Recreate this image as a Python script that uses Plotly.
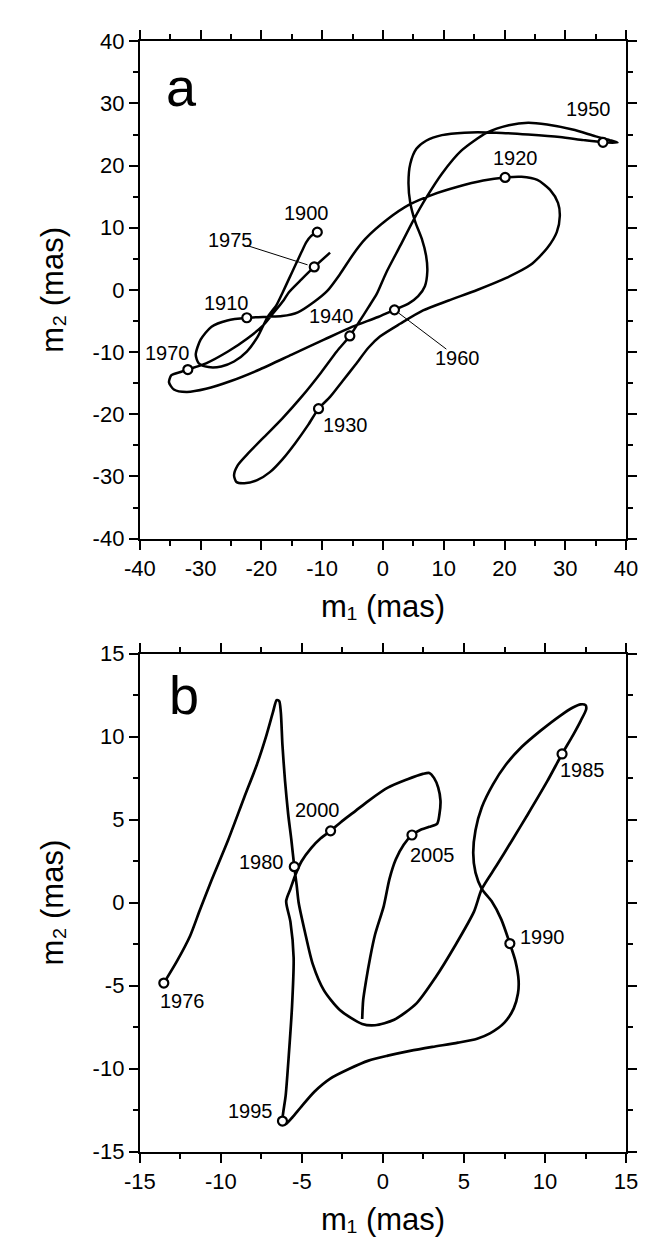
import plotly.graph_objects as go

# ---------------- data: panel a (1900-1976) ----------------
a_m1 = [-10.8, -11.8, -12.6, -13.4, -14.4, -15.5, -16.5, -17.5, -19.0, -20.6, -22.4, -24.5, -26.6,
        -28.7, -30.3, -30.8, -30.0, -28.2, -25.6, -22.4, -19.0, -16.6, -14.0, -11.3, -9.2, -7.1,
        -5.0, -2.9, 0.8, 4.4, 8.1, 12.3, 16.5, 20.1, 22.8, 25.4, 27.5, 28.8, 29.1, 28.6, 27.0,
        24.3, 20.2, 15.5, 10.8, 6.6, 2.9, -0.5, -2.4, -4.5, -6.6, -8.7, -10.6, -12.3, -14.4,
        -16.5, -18.6, -20.7, -22.8, -24.1, -24.5, -23.9, -22.3, -19.7, -16.5, -13.4, -10.2, -7.6,
        -5.45, -3.9, -2.4, -1.0, 0.5, 2.9, 5.0, 7.1, 9.7, 12.9, 17.1, 20.7, 23.9, 27.0, 31.2,
        35.0, 37.3, 38.6, 36.2, 33.0, 29.1, 23.9, 18.6, 13.4, 9.7, 7.1, 5.5, 4.5, 4.2, 4.5, 5.3,
        6.4, 7.1, 7.3, 6.9, 5.8, 4.2, 1.9, -0.8, -5.0, -9.7, -15.0, -20.2, -24.9, -29.1, -32.3,
        -34.4, -35.2, -34.8, -33.3, -32.1, -29.1, -25.5, -22.3, -19.7, -18.1, -16.3, -15.5,
        -13.4, -11.3, -8.7]
a_m2 = [9.3, 8.7, 7.7, 6.1, 4.0, 1.7, -0.4, -2.4, -4.4, -7.5, -9.9, -11.5, -12.3,
        -12.4, -11.8, -10.4, -8.0, -5.9, -4.9, -4.47, -4.3, -4.2, -3.6, -1.9, -0.2, 2.5,
        5.6, 8.2, 11.4, 13.75, 15.3, 16.6, 17.6, 18.1, 18.2, 17.7, 16.1, 14.0, 11.9, 9.3, 6.7,
        4.05, 1.9, 0.0, -1.7, -3.3, -5.4, -7.5, -9.3, -12.0, -14.6, -17.2, -19.1, -21.7, -24.6,
        -27.2, -29.3, -30.6, -31.1, -30.9, -29.8, -28.2, -26.4, -23.8, -20.6, -17.2, -13.3, -9.9,
        -7.4, -5.1, -2.8, -0.6, 2.7, 7.2, 11.2, 14.8, 18.7, 22.4, 25.3, 26.5, 26.9, 26.6, 25.8,
        24.7, 24.1, 23.7, 23.75, 24.1, 24.6, 25.0, 25.3, 25.3, 24.9, 24.0, 22.7, 20.3, 17.2, 14.0, 11.0,
        8.2, 5.5, 3.0, 0.6, -1.0, -2.2, -3.2, -4.35, -5.9, -8.0, -10.4, -12.75, -14.6, -15.9, -16.4,
        -16.0, -14.85, -13.7, -13.2, -12.8, -11.8, -9.9, -7.8, -5.7, -3.8, -1.6, -0.4,
        1.7, 3.7, 6.0]
a_years = [1900, 1910, 1920, 1930, 1940, 1950, 1960, 1970, 1975]
a_year_m1 = [-10.8, -22.4, 20.1, -10.6, -5.45, 36.2, 1.9, -32.1, -11.3]
a_year_m2 = [9.3, -4.47, 18.1, -19.1, -7.4, 23.75, -3.2, -12.8, 3.7]
a_ticks = [-40, -30, -20, -10, 0, 10, 20, 30, 40]

# ---------------- data: panel b (1976-2008) ----------------
b_m1 = [-13.52, -12.7, -11.9, -11.3, -10.6, -9.55, -8.56, -7.78, -7.19, -6.79, -6.56, -6.4, -6.3,
        -6.2, -6.04, -5.85, -5.65, -5.47, -5.32, -5.2, -4.82, -4.33, -3.64, -2.66, -1.28, -0.49,
        0.69, 2.07, 3.25, 4.43, 5.61, 6.1, 6.99, 7.98, 8.96, 10.14, 11.05, 11.72, 12.21, 12.54,
        12.5, 12.2, 11.72, 10.93, 9.75, 8.57, 7.58, 6.79, 6.1, 5.71, 5.57, 5.71, 6.1, 6.7, 7.3,
        7.83, 8.17, 8.37, 8.33, 8.07, 7.48, 6.6, 5.81, 4.63, 3.05, 1.67, 0.3, -0.89, -2.07, -3.25,
        -4.23, -5.02, -5.61, -5.95, -6.1, -6.2, -6.0, -5.81, -5.61, -5.51, -5.71, -5.97, -5.71,
        -5.41, -5.02, -4.43, -3.84, -3.23, -2.46, -1.67, -0.89, 0.3, 1.48, 2.46, 2.86, 3.15, 3.41,
        3.55, 3.49, 3.35, 2.86, 2.27, 1.79, 1.28, 0.79, 0.4, 0.05, -0.49, -0.79, -1.04, -1.22, -1.28]
b_m2 = [-4.84, -3.5, -2.0, -0.45, 1.3, 3.78, 6.34, 8.31, 10.08, 11.46, 12.2, 12.15, 11.46,
        9.49, 7.32, 5.36, 3.78, 2.17, 1.03, 0.0, -1.73, -3.7, -5.28, -6.46, -7.3, -7.38,
        -7.05, -6.06, -4.49, -2.62, -0.55, 0.83, 2.21, 3.78, 5.36, 7.32, 8.96, 10.08, 10.97, 11.66,
        11.9, 11.95, 11.76, 11.26, 10.38, 9.39, 8.31, 7.13, 5.75, 4.37, 2.99, 1.81, 0.83, 0.1, -1.0,
        -2.46, -3.5, -4.69, -5.47, -6.36, -7.24, -7.87, -8.19, -8.43, -8.68, -8.92, -9.21, -9.51, -10.0, -10.59,
        -11.38, -12.26, -12.95, -13.3, -13.35, -13.15, -11.6, -9.21, -6.26, -3.31, -1.14, 0.1, 0.83,
        1.66, 2.5, 3.29, 3.88, 4.33, 4.96, 5.55, 6.14, 6.93, 7.42, 7.76, 7.82, 7.52, 6.93,
        6.14, 5.36, 4.77, 4.57, 4.37, 4.08, 3.49, 2.6, 1.42, -0.2, -1.93, -3.31, -4.69, -5.87, -7.0]
b_years = [1976, 1980, 1985, 1990, 1995, 2000, 2005]
b_year_m1 = [-13.52, -5.47, 11.05, 7.83, -6.2, -3.23, 1.79]
b_year_m2 = [-4.84, 2.17, 8.96, -2.46, -13.15, 4.33, 4.08]
b_ticks = [-15, -10, -5, 0, 5, 10, 15]

# ---------------- styling / layout ----------------
FONT = "Liberation Sans, Arial, Helvetica, sans-serif"
W, H = 654, 1243
X0, X1 = 121, 629
A_T, A_B = 21.7, 529.3
B_T, B_B = 646.7, 1155.0

# label offsets (in data units) relative to the marker
a_lab_off = {1900: (-1.8, 3.0), 1910: (-3.3, 2.4), 1920: (1.7, 3.2), 1930: (4.5, -2.6),
             1940: (-3.0, 3.15), 1950: (-2.3, 5.4), 1960: (10.4, -7.7), 1970: (-3.3, 2.7),
             1975: (-13.8, 4.3)}
b_lab_off = {1976: (1.18, -1.07), 1980: (-2.01, 0.27), 1985: (1.25, -0.94), 1990: (2.01, 0.37),
             1995: (-1.97, 0.63), 2000: (-0.81, 1.26), 2005: (1.26, -1.18)}
# leader lines (fractions along marker -> label)
a_leaders = {1975: (0.08, 0.8), 1960: (0.07, 0.82)}

fig = go.Figure()

def add_panel(xa, ya, m1, m2, ym1, ym2, years, offs, leaders, lw):
    fig.add_trace(go.Scatter(x=m1, y=m2, mode="lines", xaxis=xa, yaxis=ya,
                             line=dict(color="black", width=lw, shape="spline", smoothing=0.7),
                             hoverinfo="skip", showlegend=False))
    for yr, (f0, f1) in leaders.items():
        i = years.index(yr)
        dx, dy = offs[yr]
        fig.add_trace(go.Scatter(x=[ym1[i] + f0 * dx, ym1[i] + f1 * dx],
                                 y=[ym2[i] + f0 * dy, ym2[i] + f1 * dy],
                                 mode="lines", xaxis=xa, yaxis=ya,
                                 line=dict(color="black", width=1), showlegend=False,
                                 hoverinfo="skip"))
    fig.add_trace(go.Scatter(x=ym1, y=ym2, mode="markers", xaxis=xa, yaxis=ya,
                             marker=dict(symbol="circle", size=9, color="white",
                                         line=dict(color="black", width=2.2)),
                             showlegend=False, hoverinfo="skip"))
    for i, yr in enumerate(years):
        dx, dy = offs[yr]
        fig.add_annotation(x=ym1[i] + dx, y=ym2[i] + dy, xref=xa, yref=ya, text=str(yr),
                           showarrow=False, xanchor="center", yanchor="middle",
                           font=dict(family=FONT, size=20, color="black"))

add_panel("x", "y", a_m1, a_m2, a_year_m1, a_year_m2, a_years, a_lab_off, a_leaders, 2.5)
add_panel("x2", "y2", b_m1, b_m2, b_year_m1, b_year_m2, b_years, b_lab_off, {}, 2.7)

def axis(ticks, minor_dt, dom, anchor):
    return dict(range=[ticks[0], ticks[-1]], domain=dom, anchor=anchor,
                tickmode="array", tickvals=ticks, ticktext=[str(t) for t in ticks],
                ticks="outside", ticklen=9, tickwidth=1.5, tickcolor="black",
                minor=dict(ticks="outside", ticklen=5, tickwidth=1.5, tickcolor="black",
                           tickmode="linear", tick0=0, dtick=minor_dt),
                showline=True, linecolor="black", linewidth=2, mirror="ticks",
                showgrid=False, zeroline=False, fixedrange=True,
                tickfont=dict(family=FONT, size=22, color="black"))

xdom = [X0 / W, X1 / W]
fig.update_layout(
    width=W, height=H, margin=dict(l=0, r=0, t=0, b=0),
    paper_bgcolor="white", plot_bgcolor="white", showlegend=False,
    xaxis=axis(a_ticks, 5, xdom, "y"),
    yaxis=axis(a_ticks, 5, [1 - A_B / H, 1 - A_T / H], "x"),
    xaxis2=axis(b_ticks, 2.5, xdom, "y2"),
    yaxis2=axis(b_ticks, 2.5, [1 - B_B / H, 1 - B_T / H], "x2"),
)

# panel letters
fig.add_annotation(x=-33.1, y=32.7, xref="x", yref="y", text="a", showarrow=False,
                   font=dict(family=FONT, size=54, color="black"))
fig.add_annotation(x=-12.25, y=12.54, xref="x2", yref="y2", text="b", showarrow=False,
                   font=dict(family=FONT, size=54, color="black"))

# axis titles
for top, bot in [(A_T, A_B), (B_T, B_B)]:
    fig.add_annotation(x=(X0 + X1) / 2 / W, y=1 - (bot + 69) / H, xref="paper", yref="paper",
                       text="m\u2081 (mas)", showarrow=False, xanchor="center",
                       yanchor="middle", font=dict(family=FONT, size=31, color="black"))
    fig.add_annotation(x=30 / W, y=1 - (top + bot) / 2 / H, xref="paper", yref="paper",
                       text="m\u2082 (mas)", showarrow=False, textangle=-90,
                       xanchor="center", yanchor="middle",
                       font=dict(family=FONT, size=31, color="black"))

fig.write_html("out.html")
